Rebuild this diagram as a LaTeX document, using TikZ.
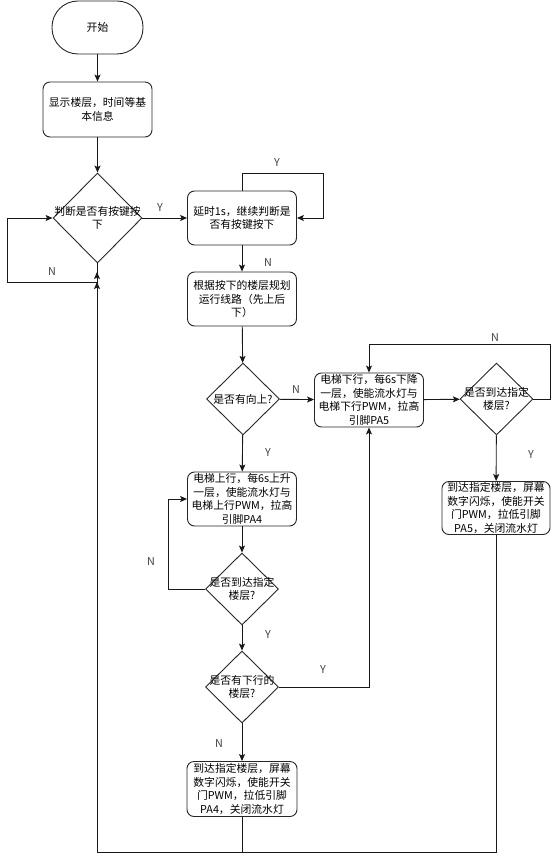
\documentclass[tikz,border=0pt]{standalone}
\usepackage{fontspec}
\setmainfont{Noto Sans CJK SC}
\usetikzlibrary{arrows.meta,shapes.geometric}
\newcommand{\flowfont}{\fontsize{10.8}{13.5}\selectfont}

\begin{document}
\begin{tikzpicture}[x=1pt,y=-1pt,line width=0.9pt,
    box/.style={draw=black!85,rounded corners=7pt,minimum width=109pt,minimum height=54pt,
      inner sep=1pt,align=center,font=\flowfont},
    decision/.style={draw=black!85,shape=diamond,inner sep=0pt,minimum width=73pt,minimum height=72pt},
    dtext/.style={align=center,font=\flowfont,inner sep=0pt},
    lbl/.style={font=\flowfont,text=black!75},
    arr/.style={draw=black!90,-{Stealth[length=7pt,width=6pt,inset=1.5pt]}}]
    \useasboundingbox (0,0) rectangle (559,861);
    % left column
    \node[box,rounded corners=26pt,minimum width=91pt,minimum height=53pt] (start) at (97.5,27.5) {开始};
    \node[box,minimum height=55pt] (info) at (97.5,109.5) {显示楼层，时间等基\\本信息};
    \node[decision,minimum width=89pt,minimum height=90pt,
      label={[dtext]center:{判断是否有按键按\\下}}] (chk) at (97.5,218) {};
    % key check
    \node[box] (delay) at (242,218) {延时1s，继续判断是\\否有按键按下};
    \node[box] (plan) at (242,299) {根据按下的楼层规划\\运行线路（先上后\\下）};
    \node[decision,label={[dtext]center:{是否有向上?}}] (upq) at (243,399) {};
    % going down
    \node[box] (dnbox) at (369,400) {电梯下行，每6s下降\\一层，使能流水灯与\\电梯下行PWM，拉高\\引脚PA5};
    \node[decision,label={[dtext]center:{是否到达指定\\楼层?}}] (dnarr) at (496.5,399) {};
    \node[box,minimum width=108pt,minimum height=53pt] (dnstop) at (496,508) {到达指定楼层，屏幕\\数字闪烁，使能开关\\门PWM，拉低引脚\\PA5，关闭流水灯};
    % going up
    \node[box] (upbox) at (242,499) {电梯上行，每6s上升\\一层，使能流水灯与\\电梯上行PWM，拉高\\引脚PA4};
    \node[decision,label={[dtext]center:{是否到达指定\\楼层?}}] (uparr) at (242,589) {};
    \node[decision,label={[dtext]center:{是否有下行的\\楼层?}}] (dnq) at (242,687) {};
    \node[box,minimum width=110pt,minimum height=55pt] (upstop) at (242,789) {到达指定楼层，屏幕\\数字闪烁，使能开关\\门PWM，拉低引脚\\PA4，关闭流水灯};
    \coordinate (bot) at (97,852);
    \coordinate (back) at (97,282);

    \draw[arr] (start) -- (info);
    \draw[arr] (info) -- (chk);
    \draw[arr] (chk.south) |- (7,282) |- (chk.west);
    \draw[arr] (chk) -- (delay);
    \draw[arr] (delay.north) |- (323,173) |- (delay.east);
    \draw[arr] (delay) -- (plan);
    \draw[arr] (plan) -- (upq);
    \draw[arr] (upq) -- (dnbox);
    \draw[arr] (dnbox) -- (dnarr);
    \draw[arr] (dnarr.east) -| (550,344) -| (dnbox.north);
    \draw[arr] (dnarr) -- (dnstop);
    \draw[arr] (upq) -- (upbox);
    \draw[arr] (upbox) -- (uparr);
    \draw[arr] (uparr.west) -- ++(-37,0) |- (upbox.west);
    \draw[arr] (uparr) -- (dnq);
    \draw[arr] (dnq.east) -| (dnbox.south);
    \draw[arr] (dnq) -- (upstop);
    \draw[arr] (upstop.south) |- (bot) -- (back);
    \draw[arr] (dnstop.south) |- (bot) -- ([yshift=10pt]back);

    % branch labels
    \node[lbl] (n1) at (52,272) {N};
    \node[lbl] (y1) at (160,208) {Y};
    \node[lbl] (y2) at (277,163) {Y};
    \node[lbl] (n2) at (268,263) {N};
    \node[lbl] (n3) at (296,390) {N};
    \node[lbl] (n4) at (495,338) {N};
    \node[lbl] (y3) at (531,455) {Y};
    \node[lbl] (y4) at (268,453) {Y};
    \node[lbl] (n5) at (151,562) {N};
    \node[lbl] (y5) at (268,635) {Y};
    \node[lbl] (y6) at (323,670) {Y};
    \node[lbl] (n6) at (219,744) {N};
\end{tikzpicture}
\end{document}
